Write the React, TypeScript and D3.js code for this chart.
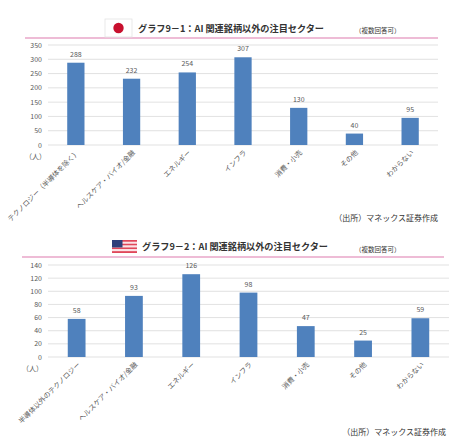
import { useEffect, useRef } from 'react';
import * as d3 from 'd3';

const JP_CATEGORIES = [
  'テクノロジー（半導体を除く）',
  'ヘルスケア・バイオ/金融',
  'エネルギー',
  'インフラ',
  '消費・小売',
  'その他',
  'わからない',
];
const JP_VALUES = [288, 232, 254, 307, 130, 40, 95];
const JP_TICKS = [0, 50, 100, 150, 200, 250, 300, 350];

const US_CATEGORIES = [
  '半導体以外のテクノロジー',
  'ヘルスケア・バイオ/金融',
  'エネルギー',
  'インフラ',
  '消費・小売',
  'その他',
  'わからない',
];
const US_VALUES = [58, 93, 126, 98, 47, 25, 59];
const US_TICKS = [0, 20, 40, 60, 80, 100, 120, 140];

const TITLE_JP = 'グラフ9－1：AI 関連銘柄以外の注目セクター';
const TITLE_US = 'グラフ9－2：AI 関連銘柄以外の注目セクター';
const NOTE = '（複数回答可）';
const SOURCE = '（出所）マネックス証券作成';
const UNIT = '（人）';

const FONT = '"Noto Sans CJK JP", "Noto Sans", sans-serif';
const BAR = '#4f81bd';
const GRID = '#d9d9d9';
const LABEL = '#595959';
const PINK = '#e9a6c9';

interface Panel {
  top: number;
  categories: string[];
  values: number[];
  ticks: number[];
  title: string;
  flag: 'jp' | 'us';
  plot: { x0: number; x1: number; y0: number; y1: number };
  rule: { x0: number; x1: number; y: number };
  titleX: number;
  flagBox: { x: number; y: number; w: number; h: number };
  sourceRight: number;
  sourceY: number;
  unitX: number;
}

const PANELS: Panel[] = [
  {
    top: 0,
    categories: JP_CATEGORIES,
    values: JP_VALUES,
    ticks: JP_TICKS,
    title: TITLE_JP,
    flag: 'jp',
    plot: { x0: 48, x1: 438, y0: 145, y1: 45 },
    rule: { x0: 25, x1: 438, y: 38 },
    titleX: 138,
    flagBox: { x: 105, y: 19, w: 27, h: 18 },
    sourceRight: 438,
    sourceY: 221,
    unitX: 25,
  },
  {
    top: 0,
    categories: US_CATEGORIES,
    values: US_VALUES,
    ticks: US_TICKS,
    title: TITLE_US,
    flag: 'us',
    plot: { x0: 48, x1: 449, y0: 357, y1: 265 },
    rule: { x0: 22, x1: 444, y: 257 },
    titleX: 142,
    flagBox: { x: 112, y: 240, w: 25, h: 13 },
    sourceRight: 446,
    sourceY: 435,
    unitX: 22,
  },
];

function drawPanel(svg: d3.Selection<SVGSVGElement, unknown, null, undefined>, p: Panel) {
  const g = svg.append('g');
  const x = d3.scaleBand().domain(p.categories).range([p.plot.x0, p.plot.x1]).paddingInner(0.69).paddingOuter(0.345);
  const y = d3
    .scaleLinear()
    .domain([0, d3.max(p.ticks) ?? 1])
    .range([p.plot.y0, p.plot.y1]);

  // gridlines
  g.selectAll('line.grid')
    .data(p.ticks)
    .join('line')
    .attr('class', 'grid')
    .attr('x1', p.plot.x0)
    .attr('x2', p.plot.x1)
    .attr('y1', (d) => y(d))
    .attr('y2', (d) => y(d))
    .attr('stroke', GRID)
    .attr('stroke-width', 0.8);

  g.selectAll('text.tick')
    .data(p.ticks)
    .join('text')
    .attr('class', 'tick')
    .attr('x', 42)
    .attr('y', (d) => y(d) + 2.5)
    .attr('text-anchor', 'end')
    .attr('fill', LABEL)
    .attr('font-size', 7)
    .attr('font-family', FONT)
    .text((d) => d);

  g.selectAll('rect.bar')
    .data(p.values)
    .join('rect')
    .attr('class', 'bar')
    .attr('x', (_, i) => x(p.categories[i])!)
    .attr('y', (d) => y(d))
    .attr('width', x.bandwidth())
    .attr('height', (d) => p.plot.y0 - y(d))
    .attr('fill', BAR);

  g.selectAll('text.value')
    .data(p.values)
    .join('text')
    .attr('class', 'value')
    .attr('x', (_, i) => x(p.categories[i])! + x.bandwidth() / 2)
    .attr('y', (d) => y(d) - 6)
    .attr('text-anchor', 'middle')
    .attr('fill', LABEL)
    .attr('font-size', 7)
    .attr('font-family', FONT)
    .text((d) => d);

  g.selectAll('text.cat')
    .data(p.categories)
    .join('text')
    .attr('class', 'cat')
    .attr(
      'transform',
      (d) => `translate(${x(d)! + x.bandwidth() / 2 + 4},${p.plot.y0 + 8}) rotate(-45)`,
    )
    .attr('text-anchor', 'end')
    .attr('fill', LABEL)
    .attr('font-size', 7)
    .attr('font-family', FONT)
    .text((d) => d);

  g.append('text')
    .attr('x', p.unitX)
    .attr('y', p.plot.y0 + 14)
    .attr('fill', LABEL)
    .attr('font-size', 7)
    .attr('font-family', FONT)
    .text(UNIT);

  // title rule
  g.append('line')
    .attr('x1', p.rule.x0)
    .attr('x2', p.rule.x1)
    .attr('y1', p.rule.y)
    .attr('y2', p.rule.y)
    .attr('stroke', PINK)
    .attr('stroke-width', 1.5);

  const fb = p.flagBox;
  if (p.flag === 'jp') {
    g.append('rect')
      .attr('x', fb.x)
      .attr('y', fb.y)
      .attr('width', fb.w)
      .attr('height', fb.h)
      .attr('fill', '#fff')
      .attr('stroke', '#e3e3e3')
      .attr('stroke-width', 0.8);
    g.append('circle')
      .attr('cx', fb.x + fb.w / 2)
      .attr('cy', fb.y + fb.h / 2)
      .attr('r', 5.2)
      .attr('fill', '#c8102e');
  } else {
    const stripes = d3.range(7);
    const sh = fb.h / 7;
    g.selectAll('rect.stripe')
      .data(stripes)
      .join('rect')
      .attr('class', 'stripe')
      .attr('x', fb.x)
      .attr('y', (i) => fb.y + i * sh)
      .attr('width', fb.w)
      .attr('height', sh)
      .attr('fill', (i) => (i % 2 === 0 ? '#e0475a' : '#fbe3e6'));
    g.append('rect')
      .attr('x', fb.x)
      .attr('y', fb.y)
      .attr('width', fb.w * 0.42)
      .attr('height', sh * 4)
      .attr('fill', '#2f3f7a');
  }

  g.append('text')
    .attr('x', p.titleX)
    .attr('y', fb.y + fb.h / 2 + 3.5)
    .attr('fill', '#333')
    .attr('font-size', 9.5)
    .attr('font-weight', 'bold')
    .attr('font-family', FONT)
    .attr('textLength', 186)
    .attr('lengthAdjust', 'spacingAndGlyphs')
    .text(p.title);

  g.append('text')
    .attr('x', 355)
    .attr('y', fb.y + fb.h / 2 + 5)
    .attr('fill', '#333')
    .attr('font-size', 6.5)
    .attr('font-family', FONT)
    .text(NOTE);

  g.append('text')
    .attr('x', p.sourceRight)
    .attr('y', p.sourceY)
    .attr('text-anchor', 'end')
    .attr('fill', '#333')
    .attr('font-size', 8)
    .attr('font-family', FONT)
    .text(SOURCE);
}

export default function App() {
  const ref = useRef<SVGSVGElement>(null);

  useEffect(() => {
    const svg = d3.select(ref.current);
    if (!svg.node()) return;
    svg.selectAll('*').remove();
    PANELS.forEach((p) => drawPanel(svg as d3.Selection<SVGSVGElement, unknown, null, undefined>, p));
  }, []);

  return (
    <svg
      ref={ref}
      width={458}
      height={439}
      style={{ position: 'fixed', left: 0, top: 0, background: '#fff' }}
    />
  );
}
